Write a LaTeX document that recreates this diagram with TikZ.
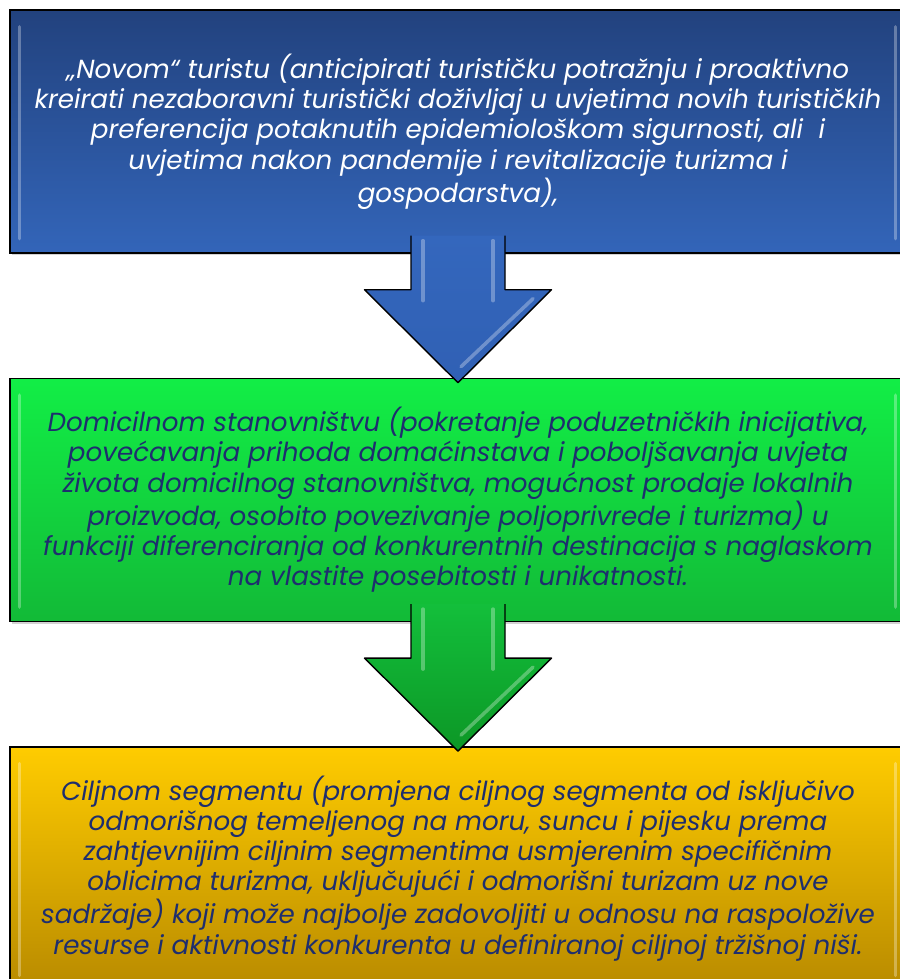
\documentclass[tikz,border=0pt]{standalone}
\usepackage{fontspec}
\setmainfont{Poppins}
\usetikzlibrary{positioning, calc, shadows}

\definecolor{bluetop}{HTML}{22427E}
\definecolor{bluebot}{HTML}{3365B9}
\definecolor{greentop}{HTML}{12EE46}
\definecolor{greenbot}{HTML}{12BA37}
\definecolor{goldtop}{HTML}{FFCC00}
\definecolor{goldbot}{HTML}{B88A00}
\definecolor{arrowblue}{HTML}{3467BD}
\definecolor{arrowbluedark}{HTML}{3060B4}
\definecolor{arrowgreen}{HTML}{13BF3B}
\definecolor{arrowgreendark}{HTML}{0C9726}
\definecolor{textnavy}{HTML}{1E2E6E}

\tikzset{
  stagebox/.style={rectangle, draw=black, line width=0.8pt, minimum width=17.92cm, minimum height=4.86cm,
    inner sep=0pt, align=center, font=\itshape\fontsize{14.9}{17.2}\selectfont,
    drop shadow={opacity=0.35, shadow xshift=0.03cm, shadow yshift=-0.05cm}},
  bigarrow/.style={draw=black, line width=0.8pt, line join=round},
  gloss/.style={line width=2pt, white, opacity=0.3, line cap=round},
}

\begin{document}
\begin{tikzpicture}
    \useasboundingbox (0,0) rectangle (17.98,-19.58);

    % Boxes
    \node (turist) [stagebox, top color=bluetop, bottom color=bluebot, text=white] at (9.16,-2.63)
      {„Novom“ turistu (anticipirati turističku potražnju i proaktivno\\
       kreirati nezaboravni turistički doživljaj u uvjetima novih turističkih\\
       preferencija potaknutih epidemiološkom sigurnosti, ali\ \ i\\
       uvjetima nakon pandemije i revitalizacije turizma i\\
       gospodarstva),};
    \node (stanov) [stagebox, top color=greentop, bottom color=greenbot, text=textnavy, below=2.48cm of turist]
      {Domicilnom stanovništvu (pokretanje poduzetničkih inicijativa,\\
       povećavanja prihoda domaćinstava i poboljšavanja uvjeta\\
       života domicilnog stanovništva, mogućnost prodaje lokalnih\\
       proizvoda, osobito povezivanje poljoprivrede i turizma) u\\
       funkciji diferenciranja od konkurentnih destinacija s naglaskom\\
       na vlastite posebitosti i unikatnosti.};
    \node (segment) [stagebox, top color=goldtop, bottom color=goldbot, text=textnavy, below=2.48cm of stanov]
      {Ciljnom segmentu (promjena ciljnog segmenta od isključivo\\
       odmorišnog temeljenog na moru, suncu i pijesku prema\\
       zahtjevnijim ciljnim segmentima usmjerenim specifičnim\\
       oblicima turizma, uključujući i odmorišni turizam uz nove\\
       sadržaje) koji može najbolje zadovoljiti u odnosu na raspoložive\\
       resurse i aktivnosti konkurenta u definiranoj ciljnoj tržišnoj niši.};

    % Bevel highlights on the boxes
    \foreach \bx in {turist, stanov, segment} {
      \draw [gloss] ($(\bx.north west)+(0.2,-0.35)$) -- ($(\bx.south west)+(0.2,0.3)$);
      \draw [gloss] ($(\bx.north east)+(-0.22,-0.35)$) -- ($(\bx.south east)+(-0.22,0.3)$);
    }

    % Arrows
    \foreach \from/\to/\ctop/\cbot in {turist/stanov/arrowblue/arrowbluedark, stanov/segment/arrowgreen/arrowgreendark} {
      \draw [bigarrow, top color=\ctop, bottom color=\cbot]
        ($(\from.south)+(-0.94,0.36)$) -- ++(0,-1.08) -- ++(-0.93,0)
        -- ($(\to.north)+(0,-0.1)$)
        -- ($(\from.south)+(1.87,-0.72)$) -- ++(-0.93,0) -- ++(0,1.08);
      \draw [gloss] ($(\from.south)+(-0.7,0.26)$) -- ($(\from.south)+(-0.7,-0.94)$);
      \draw [gloss] ($(\from.south)+(0.7,0.26)$) -- ($(\from.south)+(0.7,-0.94)$);
      \draw [gloss] ($(\from.south)+(1.5,-0.9)$) -- ($(\from.south)+(0.06,-2.26)$);
    }
\end{tikzpicture}
\end{document}
